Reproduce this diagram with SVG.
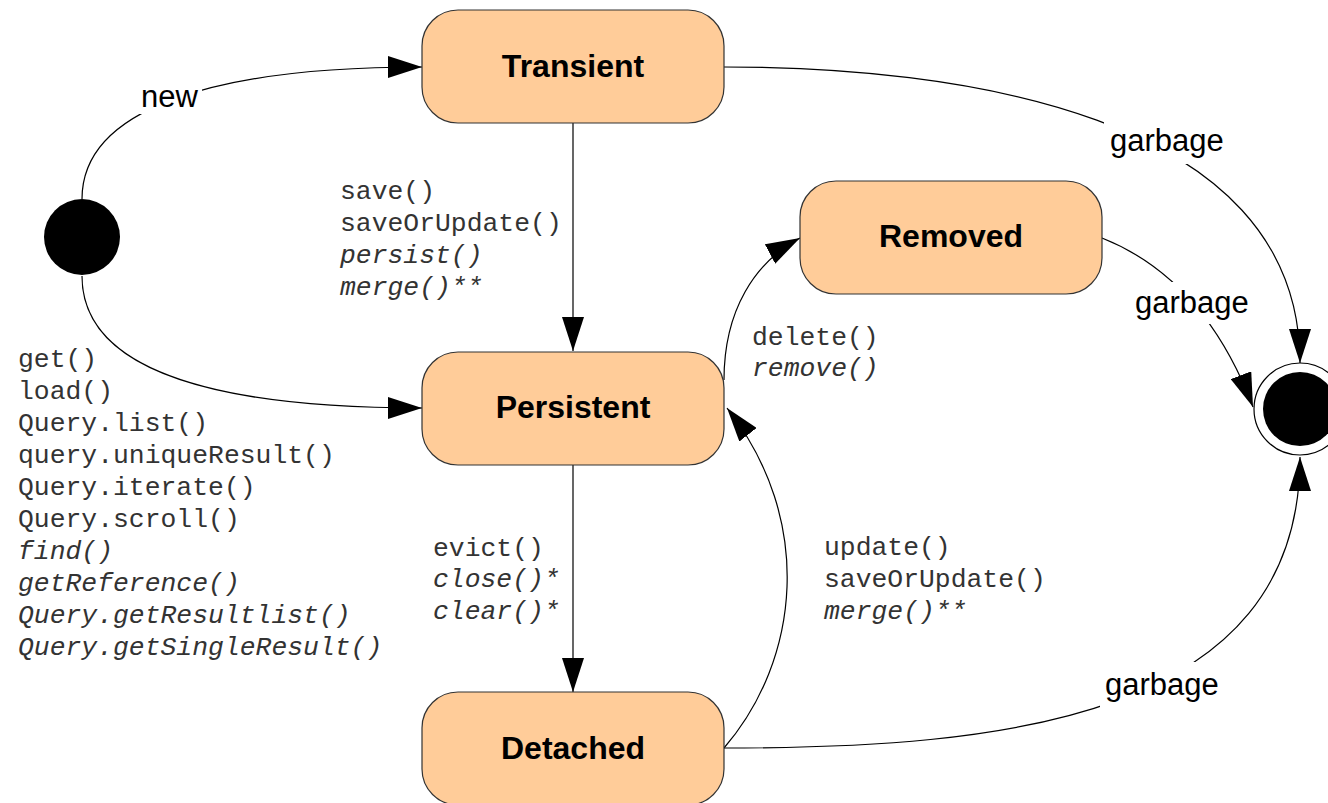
<svg xmlns="http://www.w3.org/2000/svg" width="1328" height="803" viewBox="0 0 1328 803">
<style>
.node rect{fill:#FFCC99;stroke:#333;stroke-width:1.2}
.nl{font-family:"Liberation Sans",Arial,sans-serif;font-weight:bold;font-size:32px;text-anchor:middle;fill:#000}
.lbl{font-family:"Liberation Sans",Arial,sans-serif;font-size:31px;fill:#000}
.m{font-family:"Liberation Mono","Courier New",monospace;font-size:26.4px;fill:#333}
.i{font-style:italic}
.edge{fill:none;stroke:#000;stroke-width:1.2}
.bg{fill:#fff}
</style>
<defs>
<marker id="ah" markerUnits="userSpaceOnUse" markerWidth="34" markerHeight="22" refX="34" refY="11" orient="auto">
<path d="M0,0 L34,11 L0,22 z" fill="#000"/>
</marker>
</defs>
<rect width="1328" height="803" fill="#fff"/>
<g id="connectors">
<path class="edge" d="M82,199 C82,110 210,67 422,67" marker-end="url(#ah)"/>
<path class="edge" d="M82,276 C82,355 175,408 422,408" marker-end="url(#ah)"/>
<path class="edge" d="M573,123 L573,351" marker-end="url(#ah)"/>
<path class="edge" d="M573,465 L573,692" marker-end="url(#ah)"/>
<path class="edge" d="M724,67 C950,67 1300,110 1300,363" marker-end="url(#ah)"/>
<path class="edge" d="M1102,238 C1170,265 1220,320 1253,407" marker-end="url(#ah)"/>
<path class="edge" d="M724,380 C724,310 755,262 800,238" marker-end="url(#ah)"/>
<path class="edge" d="M724,748 C800,660 815,520 727,408" marker-end="url(#ah)"/>
<path class="edge" d="M724,748 C1000,748 1300,720 1300,457" marker-end="url(#ah)"/>
<rect class="bg" x="136" y="80" width="66" height="34"/>
<rect class="bg" x="1104" y="118" width="128" height="46"/>
<rect class="bg" x="1130" y="282" width="126" height="42"/>
<rect class="bg" x="1100" y="662" width="126" height="46"/>
<text class="lbl" x="141" y="107">new</text>
<text class="lbl" x="1110" y="151">garbage</text>
<text class="lbl" x="1135" y="313">garbage</text>
<text class="lbl" x="1105" y="695">garbage</text>
<g id="label-save">
<text class="m" x="340" y="199">save()</text>
<text class="m" x="340" y="231">saveOrUpdate()</text>
<text class="m i" x="340" y="263">persist()</text>
<text class="m i" x="340" y="295">merge()**</text>
</g>
<g id="label-get">
<text class="m" x="18" y="367">get()</text>
<text class="m" x="18" y="399">load()</text>
<text class="m" x="18" y="431">Query.list()</text>
<text class="m" x="18" y="463">query.uniqueResult()</text>
<text class="m" x="18" y="495">Query.iterate()</text>
<text class="m" x="18" y="527">Query.scroll()</text>
<text class="m i" x="18" y="559">find()</text>
<text class="m i" x="18" y="591">getReference()</text>
<text class="m i" x="18" y="623">Query.getResultlist()</text>
<text class="m i" x="18" y="655">Query.getSingleResult()</text>
</g>
<g id="label-delete">
<text class="m" x="752" y="345">delete()</text>
<text class="m i" x="752" y="376">remove()</text>
</g>
<g id="label-evict">
<text class="m" x="433" y="556">evict()</text>
<text class="m i" x="433" y="587">close()*</text>
<text class="m i" x="433" y="619">clear()*</text>
</g>
<g id="label-update">
<text class="m" x="824" y="555">update()</text>
<text class="m" x="824" y="587">saveOrUpdate()</text>
<text class="m i" x="824" y="619">merge()**</text>
</g>
</g>
<g id="initial"><circle cx="82" cy="237" r="38" fill="#000"/></g>
<g id="final"><circle cx="1300" cy="409" r="46" fill="#fff" stroke="#000" stroke-width="1.2"/><circle cx="1300" cy="409" r="37" fill="#000"/></g>
<g id="transient" class="node"><rect x="422" y="10" width="302" height="113" rx="36" ry="36"/><text class="nl" x="573" y="77">Transient</text></g>
<g id="removed" class="node"><rect x="800" y="181" width="302" height="113" rx="36" ry="36"/><text class="nl" x="951" y="247">Removed</text></g>
<g id="persistent" class="node"><rect x="422" y="352" width="302" height="113" rx="36" ry="36"/><text class="nl" x="573" y="418">Persistent</text></g>
<g id="detached" class="node"><rect x="422" y="692" width="302" height="113" rx="36" ry="36"/><text class="nl" x="573" y="759">Detached</text></g>
</svg>
